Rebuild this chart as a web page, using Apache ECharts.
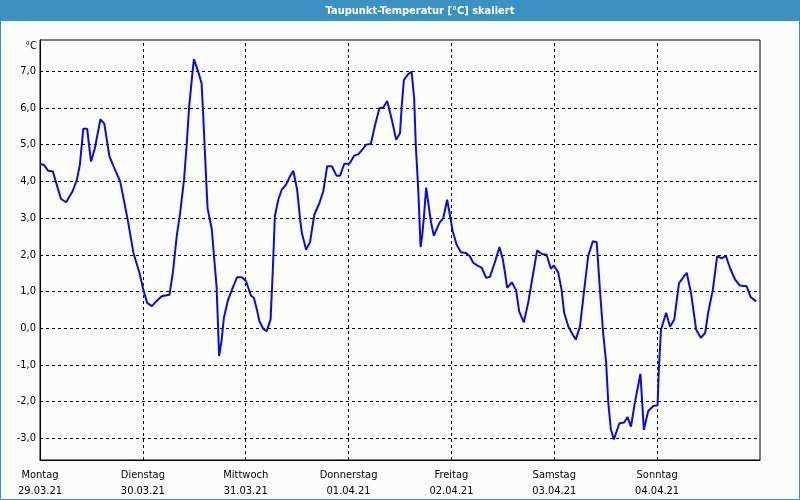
<!DOCTYPE html>
<html>
<head>
<meta charset="utf-8">
<script src="https://cdn.jsdelivr.net/npm/echarts@6/dist/echarts.min.js"></script>
<style>
html,body{margin:0;padding:0;background:#fbfdfb;}
#chart{width:800px;height:500px;}
</style>
</head>
<body>
<div id="chart"></div>
<script>
// Hours since Montag 29.03.21 00:00
var hours = [0,0.9,1.9,3.0,3.9,4.9,6.1,7.6,8.6,9.3,10.1,11.0,11.9,12.8,14.1,15.0,16.2,17.5,18.7,19.4,20.6,21.8,23.2,24.1,25.0,26.1,27.1,28.4,30.2,31.0,31.9,32.7,33.6,34.2,34.8,35.9,36.9,37.7,38.1,38.7,39.1,40.1,40.6,41.2,41.8,42.2,42.4,42.9,43.9,45.1,46.0,47.1,48.1,49.2,49.9,50.6,51.2,52.1,52.9,53.8,54.3,54.8,55.6,56.4,57.4,58.3,59.1,60.0,60.7,61.1,62.1,63.0,64.0,65.2,66.1,67.0,68.1,69.2,70.0,71.0,72.2,73.3,74.3,75.3,76.1,77.2,78.2,79.2,80.1,81.0,82.1,83.1,84.0,84.4,84.9,85.9,86.7,87.1,87.3,87.7,88.3,88.8,89.2,89.6,90.1,90.6,91.2,91.9,93.2,94.1,95.0,95.7,96.3,97.2,98.2,99.4,100.3,101.1,102.0,103.1,104.1,105.0,106.2,107.2,108.0,108.5,109.0,110.1,111.1,111.8,112.9,113.9,115.1,116.0,117.1,118.2,119.2,119.9,120.9,121.7,122.3,123.3,124.3,125.0,126.0,126.9,127.9,129.0,129.9,130.7,131.4,132.1,132.6,133.2,133.9,135.2,136.3,137.1,137.9,138.8,140.1,140.9,141.9,143.1,144.1,144.4,144.9,146.1,147.0,148.0,149.1,150.9,151.9,153.1,154.2,155.2,155.9,157.0,158.0,159.1,160.0,161.0,162.2,163.3,164.9,165.8,167.1];
var dewpoint = [4.47,4.45,4.29,4.27,3.91,3.52,3.43,3.73,4.04,4.45,5.43,5.43,4.54,4.90,5.69,5.57,4.68,4.32,4.00,3.59,2.87,2.05,1.51,1.05,0.69,0.60,0.73,0.87,0.91,1.51,2.50,3.14,4.04,4.95,6.04,7.33,6.99,6.67,5.77,4.23,3.27,2.68,1.96,1.14,-0.76,-0.81,-0.31,0.28,0.78,1.14,1.39,1.39,1.28,0.89,0.83,0.51,0.19,-0.02,-0.08,0.24,1.51,3.05,3.50,3.77,3.91,4.13,4.29,3.77,2.96,2.59,2.14,2.34,3.09,3.41,3.73,4.41,4.41,4.15,4.15,4.48,4.48,4.70,4.74,4.88,5.00,5.02,5.54,5.99,6.01,6.19,5.68,5.13,5.31,6.04,6.76,6.92,6.98,6.98,6.27,4.95,3.68,2.21,2.55,3.05,3.83,3.41,2.91,2.52,2.87,3.00,3.50,3.05,2.64,2.28,2.07,2.05,1.96,1.78,1.71,1.64,1.37,1.40,1.82,2.21,1.87,1.51,1.10,1.25,1.03,0.46,0.16,0.69,1.51,2.12,2.02,2.00,1.62,1.71,1.52,1.05,0.42,0.04,-0.17,-0.31,0.05,0.96,1.96,2.37,2.34,0.96,-0.13,-0.94,-2.03,-2.75,-3.03,-2.59,-2.57,-2.42,-2.68,-2.03,-1.24,-2.77,-2.26,-2.12,-2.10,-1.12,-0.04,0.42,0.04,0.24,1.23,1.51,0.96,-0.04,-0.26,-0.13,0.42,1.05,1.96,1.90,1.98,1.64,1.32,1.16,1.14,0.85,0.73];
var dayNames = ['Montag','Dienstag','Mittwoch','Donnerstag','Freitag','Samstag','Sonntag'];
var dayDates = ['29.03.21','30.03.21','31.03.21','01.04.21','02.04.21','03.04.21','04.04.21'];
var dayTicks = [24,48,72,96,120,144];
var yTicks = [-3,-2,-1,0,1,2,3,4,5,6,7];
var titleText = 'Taupunkt-Temperatur [°C] skaliert';
var unitText = '°C';

var FONT = '"DejaVu Sans Condensed", "DejaVu Sans", sans-serif';
var points = hours.map(function(h, i){ return [h, dewpoint[i]]; });
var gridLines = yTicks.map(function(t){ return {yAxis: t}; }).concat(dayTicks.map(function(d){ return {xAxis: d}; }));

var chart = echarts.init(document.getElementById('chart'), null, {renderer:'canvas'});
chart.setOption({
  animation: false,
  backgroundColor: '#fbfdfb',
  grid: {left: 40, right: 40, top: 40, bottom: 40, show: true, borderColor: '#000', borderWidth: 1, backgroundColor: '#fbfdfb', containLabel: false},
  xAxis: {
    type: 'value', min: 0, max: 168, interval: 24,
    axisLine: {show: true, onZero: false, lineStyle: {color: '#000', width: 1}},
    axisTick: {show: false},
    splitLine: {show: false},
    axisLabel: {
      show: true, margin: 7, color: '#000', fontFamily: FONT, fontSize: 11, lineHeight: 16,
      showMaxLabel: false,
      formatter: function(v){ var i = Math.round(v/24); return i < dayNames.length ? dayNames[i] + '\n' + dayDates[i] : ''; }
    }
  },
  yAxis: {
    type: 'value', min: -3.59, max: 7.85,
    axisLine: {show: true, onZero: false, lineStyle: {color: '#000', width: 1}},
    axisTick: {show: false},
    splitLine: {show: false},
    axisLabel: {
      show: true, margin: 4, color: '#000', fontFamily: FONT, fontSize: 11,
      customValues: yTicks,
      formatter: function(v){ return v.toFixed(1).replace('.', ','); }
    }
  },
  series: [{
    type: 'line', data: points, showSymbol: false, symbol: 'none', smooth: false,
    lineStyle: {color: '#0a0ae6', width: 2},
    markLine: {
      silent: true, symbol: ['none','none'], label: {show: false},
      lineStyle: {color: '#000', width: 1, type: [3,3]},
      data: gridLines
    },
    z: 5
  }],
  graphic: [
    {type: 'rect', shape: {x: 0, y: 0, width: 800, height: 21}, style: {fill: '#3c91c3'}, z: 10},
    {type: 'rect', shape: {x: 0.5, y: 0.5, width: 799, height: 499}, style: {fill: null, stroke: '#3c91c3', lineWidth: 1}, z: 10},
    {type: 'text', x: 420, y: 11, style: {text: titleText, fill: '#fff', font: 'bold 11px ' + FONT, textAlign: 'center', textVerticalAlign: 'middle'}, z: 11},
    {type: 'text', x: 37, y: 46, style: {text: unitText, fill: '#000', font: '11px ' + FONT, textAlign: 'right', textVerticalAlign: 'middle'}, z: 11}
  ]
});
</script>
</body>
</html>
